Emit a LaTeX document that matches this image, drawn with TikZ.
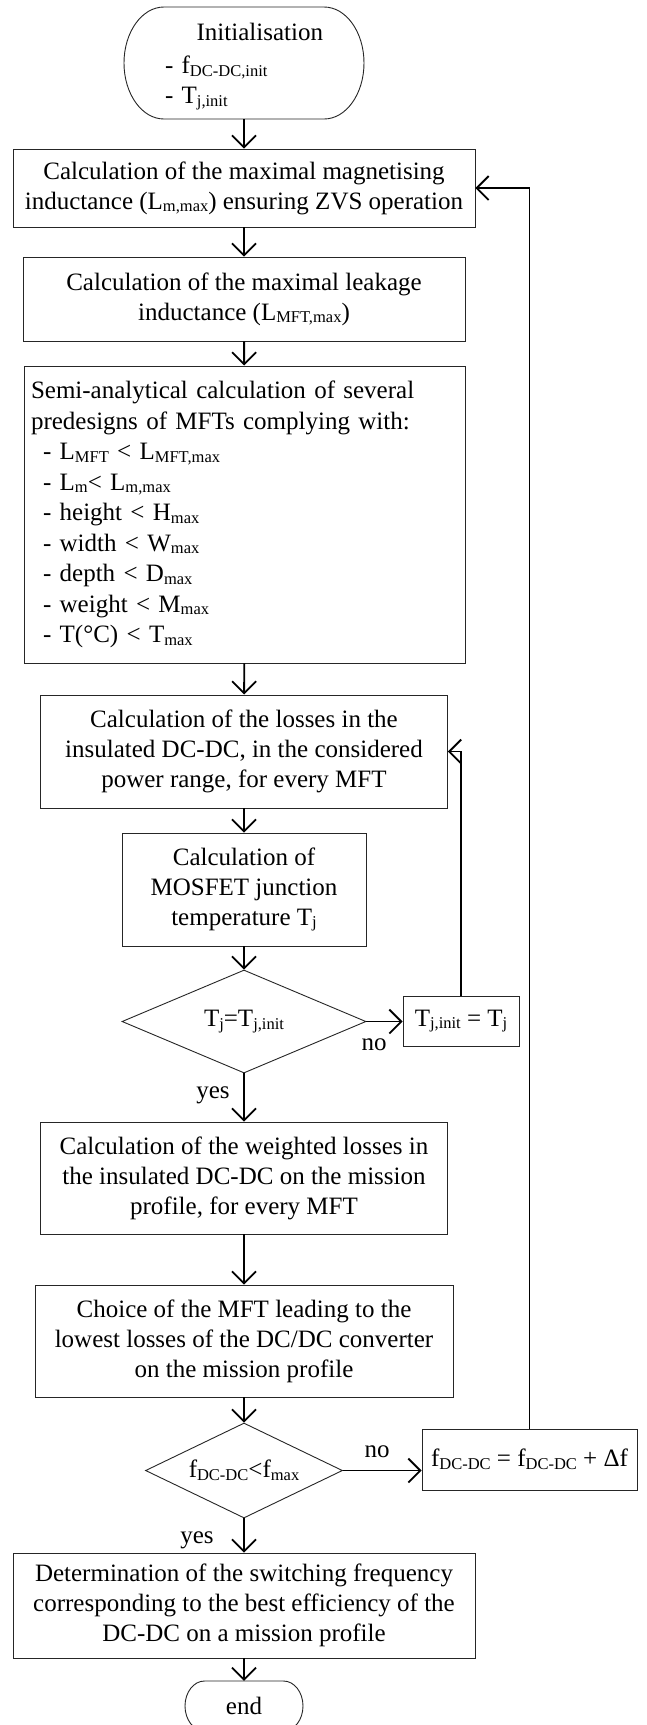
\documentclass[tikz,border=0pt]{standalone}
\usepackage{fontspec}
\setmainfont{Liberation Serif}
\usetikzlibrary{arrows.meta,shapes.geometric,calc}
\newcommand{\sbs}[1]{\raisebox{-2.5pt}{\fontsize{16.5}{16.5}\selectfont #1}}
\begin{document}
\begin{tikzpicture}[x=1pt,y=-1pt,
  font=\fontsize{25}{30}\selectfont,
  box/.style={draw=black!85, line width=0.9pt, rectangle, align=center, inner sep=0pt},
  arr/.style={-{Straight Barb[length=12pt,width=24pt]}, line width=1.8pt},
  lab/.style={inner sep=0pt, anchor=base},
  outl/.style={draw=black!85, line width=0.9pt}]
\useasboundingbox (0,0) rectangle (646,1725);
\fill[white] (0,0) rectangle (646,1725);
% start terminal
\draw[outl] (164,7) -- (324,7) arc[start angle=90,end angle=-90,x radius=40pt,y radius=56pt]
  -- (164,119) arc[start angle=270,end angle=90,x radius=40pt,y radius=56pt] -- cycle;
\node[minimum width=230pt, minimum height=112pt, inner sep=0pt, align=left, text width=158pt] (init) at (244,63)
  {\rule{0pt}{25pt}\hspace*{\fill}Initialisation\hspace*{\fill}\\[3pt]- f\sbs{DC-DC,init}\\- T\sbs{j,init}};
\node[box, minimum width=462pt, minimum height=78pt] (b1) at (244,188)
  {Calculation of the maximal magnetising\\inductance (L\sbs{m,max}) ensuring ZVS operation};
\node[box, minimum width=442pt, minimum height=84pt] (b2) at (244,299)
  {Calculation of the maximal leakage\\inductance (L\sbs{MFT,max})};
\node[box, text width=427pt, inner xsep=7pt, align=left, minimum height=297pt,
  font=\fontsize{25}{30.5}\selectfont] (b3) at (244.5,514.5)
  {Semi-analytical calculation of several\\
   predesigns of MFTs complying with:\\
   \hspace*{12pt}- L\sbs{MFT} < L\sbs{MFT,max}\\
   \hspace*{12pt}- L\sbs{m}< L\sbs{m,max}\\
   \hspace*{12pt}- height < H\sbs{max}\\
   \hspace*{12pt}- width < W\sbs{max}\\
   \hspace*{12pt}- depth < D\sbs{max}\\
   \hspace*{12pt}- weight < M\sbs{max}\\
   \hspace*{12pt}- T(°C) < T\sbs{max}};
\node[box, minimum width=407pt, minimum height=113pt] (b4) at (244,751.5)
  {Calculation of the losses in the\\insulated DC-DC, in the considered\\power range, for every MFT};
\node[box, minimum width=244pt, minimum height=113pt] (b5) at (244,889.5)
  {Calculation of\\MOSFET junction\\temperature T\sbs{j}};
\node[diamond, draw=black!85, line width=0.9pt, minimum width=244pt, minimum height=103pt,
  inner sep=0pt, aspect=2.37] (d1) at (244,1021.5) {T\sbs{j}=T\sbs{j,init}};
\node[box, minimum width=116pt, minimum height=50pt] (tj) at (461,1021)
  {T\sbs{j,init} = T\sbs{j}};
\node[box, minimum width=407pt, minimum height=112pt] (b6) at (244,1178)
  {Calculation of the weighted losses in\\the insulated DC-DC on the mission\\profile, for every MFT};
\node[box, minimum width=418pt, minimum height=112pt] (b7) at (244,1341)
  {Choice of the MFT leading to the\\lowest losses of the DC/DC converter\\on the mission profile};
\node[diamond, draw=black!85, line width=0.9pt, minimum width=197pt, minimum height=95pt,
  inner sep=0pt, aspect=2.07] (d2) at (244,1470.5) {f\sbs{DC-DC}<f\sbs{max}};
\node[box, minimum width=215pt, minimum height=61pt] (fb) at (529.5,1459.5)
  {f\sbs{DC-DC} = f\sbs{DC-DC} + Δf};
\node[box, minimum width=462pt, minimum height=105pt] (b8) at (244,1605.5)
  {Determination of the switching frequency\\corresponding to the best efficiency of the\\DC-DC on a mission profile};
% end terminal
\draw[outl] (204.5,1681) -- (283.5,1681) arc[start angle=90,end angle=-90,x radius=19.5pt,y radius=25pt]
  -- (204.5,1731) arc[start angle=270,end angle=90,x radius=19.5pt,y radius=25pt] -- cycle;
\node[minimum width=117pt, minimum height=50pt, inner sep=0pt] (endn) at (244,1706) {end};
% labels
\node[lab] (no1) at (374,1050) {no};
\node[lab] (yes1) at (213,1098) {yes};
\node[lab] (no2) at (377,1457) {no};
\node[lab] (yes2) at (197,1543) {yes};
% connectors
\draw[arr] (init.south) -- (b1.north);
\draw[arr] (b1) -- (b2);
\draw[arr] (b2) -- (b3);
\draw[arr] (b3) -- (b4);
\draw[arr] (b4) -- (b5);
\draw[arr] (b5) -- (d1.north);
\draw[arr] (d1.east) -- (d1.east -| tj.west);
\draw[arr] (tj.north) |- (b4.east);
\draw[arr] (d1.south) -- (b6.north);
\draw[arr] (b6) -- (b7);
\draw[arr] (b7) -- (d2.north);
\draw[arr] (d2.east) -- (d2.east -| fb.west);
\draw[arr] (fb.north) |- (b1.east);
\draw[arr] (d2.south) -- (b8.north);
\draw[arr] (b8) -- (endn.north);
\end{tikzpicture}
\end{document}
